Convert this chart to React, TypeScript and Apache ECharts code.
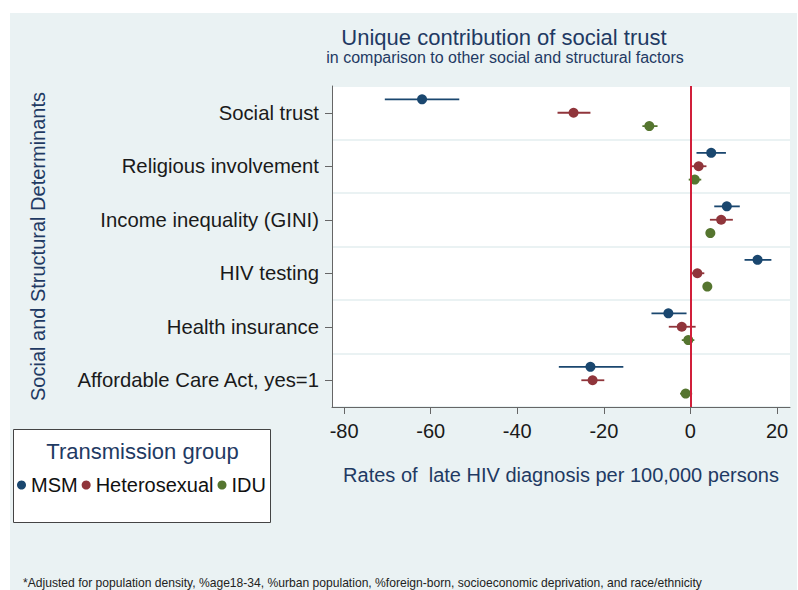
import React, { useEffect, useRef } from "react";
import * as echarts from "echarts";

const categories = [
  "Social trust",
  "Religious involvement",
  "Income inequality (GINI)",
  "HIV testing",
  "Health insurance",
  "Affordable Care Act, yes=1",
];
const groups = ["MSM", "Heterosexual", "IDU"];
const msmEst = [-62.0, 4.8, 8.4, 15.5, -5.1, -23.1];
const msmLo = [-70.6, 1.4, 5.5, 12.5, -9.0, -30.4];
const msmHi = [-53.4, 8.2, 11.4, 18.7, -0.9, -15.5];
const hetEst = [-27.0, 1.9, 7.1, 1.6, -2.0, -22.6];
const hetLo = [-30.7, 0.3, 4.5, 0.2, -5.0, -25.2];
const hetHi = [-23.1, 3.7, 9.8, 3.2, 1.2, -19.9];
const iduEst = [-9.5, 1.0, 4.6, 3.9, -0.5, -1.1];
const iduLo = [-11.1, -0.4, 4.0, 3.4, -2.0, -2.4];
const iduHi = [-7.6, 2.5, 5.2, 4.4, 0.9, 0.4];
const xTicks = [-80, -60, -40, -20, 0, 20];

const FONT = "'Liberation Sans', Arial, sans-serif";
const NAVY = "#1f3a63";

export default function App() {
  const ref = useRef<HTMLDivElement>(null);
  useEffect(() => {
    if (!ref.current) return;
    const chart = echarts.init(ref.current, null, { renderer: "svg" });
    const colors = ["#1a476f", "#90353b", "#55752f"];
    const offsets = [-0.25, 0, 0.25];
    const est = [msmEst, hetEst, iduEst];
    const lo = [msmLo, hetLo, iduLo];
    const hi = [msmHi, hetHi, iduHi];

    const series: any[] = groups.map((g, gi) => ({
      type: "custom",
      name: g,
      z: 3,
      itemStyle: { color: colors[gi] },
      encode: { x: [1, 2, 3], y: 0 },
      data: categories.map((_, ci) => [ci, est[gi][ci], lo[gi][ci], hi[gi][ci]]),
      renderItem: (params: any, api: any) => {
        const cat = api.value(0);
        const c = api.coord([api.value(1), cat]);
        const band = api.size([0, 1])[1];
        const y = c[1] + offsets[gi] * band;
        const x0 = api.coord([api.value(2), cat])[0];
        const x1 = api.coord([api.value(3), cat])[0];
        return {
          type: "group",
          children: [
            {
              type: "line",
              shape: { x1: x0, y1: y, x2: x1, y2: y },
              style: { stroke: colors[gi], lineWidth: 1.8 },
            },
            {
              type: "circle",
              shape: { cx: c[0], cy: y, r: 5 },
              style: { fill: colors[gi] },
            },
          ],
        };
      },
    }));
    series.push({
      type: "line",
      name: "zero",
      z: 2,
      data: [],
      markLine: {
        silent: true,
        symbol: "none",
        label: { show: false },
        lineStyle: { color: "#d11f3a", width: 2, type: "solid" },
        data: [{ xAxis: 0 }],
      },
    });

    chart.setOption({
      animation: false,
      backgroundColor: "#eaf2f3",
      textStyle: { fontFamily: FONT },
      grid: {
        left: 332,
        right: 8,
        top: 86,
        bottom: 183,
        show: true,
        backgroundColor: "#ffffff",
        borderWidth: 0,
      },
      legend: {
        data: groups,
        left: 17,
        top: 475,
        icon: "circle",
        itemWidth: 9,
        itemHeight: 9,
        itemGap: 4,
        padding: 0,
        textStyle: { fontSize: 20, color: "#111", fontFamily: FONT },
      },
      xAxis: {
        type: "value",
        min: -82.8,
        max: 23,
        name: "Rates of  late HIV diagnosis per 100,000 persons",
        nameLocation: "middle",
        nameGap: 58,
        nameTextStyle: { fontSize: 20, color: NAVY, fontFamily: FONT },
        axisLine: { show: true, onZero: false, lineStyle: { color: "#666", width: 1 } },
        axisTick: { show: true, length: 7, customValues: xTicks, lineStyle: { color: "#666" } },
        axisLabel: {
          customValues: xTicks,
          fontSize: 20,
          color: "#1a1a1a",
          margin: 14,
          fontFamily: FONT,
        },
        splitLine: { show: false },
      },
      yAxis: {
        type: "category",
        data: categories,
        inverse: true,
        name: "Social and Structural Determinants",
        nameLocation: "middle",
        nameRotate: 90,
        nameGap: 284,
        nameTextStyle: { fontSize: 20, color: NAVY, fontFamily: FONT },
        axisLine: { show: true, onZero: false, lineStyle: { color: "#666", width: 1 } },
        axisTick: { show: true, alignWithLabel: true, length: 7, lineStyle: { color: "#666" } },
        axisLabel: { fontSize: 20.3, color: "#1a1a1a", margin: 13, fontFamily: FONT },
        splitLine: { show: true, lineStyle: { color: "#eaf2f3", width: 2 } },
      },
      graphic: [
        { type: "rect", silent: true, z: 10, shape: { x: 0, y: 0, width: 798, height: 13 }, style: { fill: "#ffffff" } },
        { type: "rect", silent: true, z: 10, shape: { x: 0, y: 0, width: 10, height: 590 }, style: { fill: "#ffffff" } },
        { type: "rect", silent: true, z: 10, shape: { x: 797, y: 0, width: 1, height: 590 }, style: { fill: "#ffffff" } },
        {
          type: "text",
          x: 504,
          y: 37,
          style: {
            text: "Unique contribution of social trust",
            fontSize: 22,
            fill: NAVY,
            fontFamily: FONT,
            textAlign: "center",
            textVerticalAlign: "middle",
          },
        },
        {
          type: "text",
          x: 505,
          y: 57,
          style: {
            text: "in comparison to other social and structural factors",
            fontSize: 16,
            fill: NAVY,
            fontFamily: FONT,
            textAlign: "center",
            textVerticalAlign: "middle",
          },
        },
        {
          type: "rect",
          z: 1,
          shape: { x: 13.5, y: 429.5, width: 257, height: 93 },
          style: { fill: "#ffffff", stroke: "#444", lineWidth: 1 },
        },
        {
          type: "text",
          z: 2,
          x: 142.5,
          y: 451,
          style: {
            text: "Transmission group",
            fontSize: 22,
            fill: NAVY,
            fontFamily: FONT,
            textAlign: "center",
            textVerticalAlign: "middle",
          },
        },
        {
          type: "text",
          x: 23,
          y: 583,
          style: {
            text:
              "*Adjusted for population density, %age18-34, %urban population, %foreign-born, socioeconomic deprivation, and race/ethnicity",
            fontSize: 12.1,
            fill: "#222",
            fontFamily: FONT,
            textAlign: "left",
            textVerticalAlign: "middle",
          },
        },
      ],
      series,
    });
    return () => chart.dispose();
  }, []);
  return (
    <div
      ref={ref}
      style={{ position: "absolute", left: 0, top: 0, width: 798, height: 590 }}
    />
  );
}
